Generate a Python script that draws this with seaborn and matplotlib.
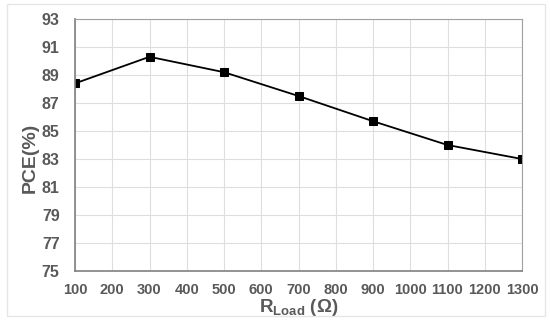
import matplotlib
matplotlib.use("Agg")
import matplotlib.pyplot as plt
import seaborn as sns
import pandas as pd
from matplotlib.patches import Rectangle

r_load = [100, 300, 500, 700, 900, 1100, 1300]
pce = [88.4, 90.3, 89.2, 87.5, 85.7, 84.0, 83.0]
x_ticks = list(range(100, 1301, 100))
y_ticks = list(range(75, 94, 2))

df = pd.DataFrame({"R": r_load, "PCE": pce})

sns.set_style("white")
plt.rcParams["font.family"] = ["Liberation Sans", "DejaVu Sans"]
plt.rcParams["mathtext.fontset"] = "custom"
plt.rcParams["mathtext.rm"] = "Liberation Sans"
plt.rcParams["mathtext.bf"] = "Liberation Sans:bold"

txt = "#595959"
fig = plt.figure(figsize=(5.5, 3.24), dpi=100)
ax = fig.add_axes([75 / 550, 1 - 271 / 324, (522 - 75) / 550, (271 - 19) / 324])

sns.lineplot(data=df, x="R", y="PCE", ax=ax, color="black", lw=1.3,
             marker="s", markersize=6, markeredgecolor="black", markerfacecolor="black")

ax.set_xlim(100, 1300)
ax.set_ylim(75, 93)
ax.set_xticks(x_ticks)
ax.set_yticks(y_ticks)
ax.grid(True, color="#dedede", lw=0.8)
ax.set_axisbelow(True)
for s in ["top", "right"]:
    ax.spines[s].set_color("#a0a0a0")
for s in ["left", "bottom"]:
    ax.spines[s].set_color("#808080")
    ax.spines[s].set_linewidth(1.2)
ax.tick_params(axis="both", length=4, width=1, color="#808080", direction="out",
               labelcolor=txt)
ax.tick_params(axis="x", labelsize=10.5, pad=5)
ax.tick_params(axis="y", labelsize=11.5, pad=7)
for lab in ax.get_xticklabels() + ax.get_yticklabels():
    lab.set_fontweight("bold")

ax.set_xlabel(r"$\mathbf{R_{Load}}$ $\mathbf{(Ω)}$", fontsize=13.5, color=txt)
ax.set_ylabel("PCE(%)", fontsize=14, fontweight="bold", color=txt)
ax.xaxis.set_label_coords(0.5, -0.105)
ax.yaxis.set_label_coords(-0.082, 0.45)

fig.patches.append(Rectangle((7 / 550, 1 - 316 / 324), (545 - 7) / 550, (316 - 4) / 324,
                             transform=fig.transFigure, fill=False, ec="#e6e6e6", lw=1))

fig.savefig("out.png", dpi=100)
